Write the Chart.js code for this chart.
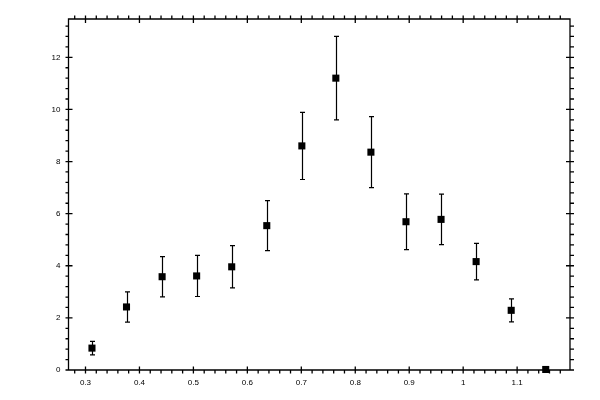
<!DOCTYPE html>
<html>
<head>
<meta charset="utf-8">
<script src="https://cdn.jsdelivr.net/npm/chart.js@4"></script>
<style>
  body { margin: 0; background: #fff; }
  canvas { display: block; }
</style>
</head>
<body>
<canvas id="chart" width="600" height="400"></canvas>
<script>
// Data
const xValues = [0.312, 0.376, 0.442, 0.506, 0.571, 0.636, 0.701, 0.764, 0.829, 0.894, 0.959, 1.024, 1.089, 1.153];
const yValues = [0.84, 2.42, 3.58, 3.61, 3.96, 5.54, 8.6, 11.2, 8.36, 5.69, 5.78, 4.16, 2.29, 0.02];
const yErrors = [0.26, 0.58, 0.77, 0.79, 0.81, 0.96, 1.29, 1.6, 1.36, 1.07, 0.97, 0.70, 0.44, 0];

// Axis ticks
const xTicks = [0.3, 0.4, 0.5, 0.6, 0.7, 0.8, 0.9, 1, 1.1];
const yTicks = [0, 2, 4, 6, 8, 10, 12];
const xRange = [0.2685, 1.198];
const yRange = [0, 13.47];

const FONT = { family: 'Liberation Sans', size: 8 };

// error bars, drawn under the markers
const errorBars = {
    id: 'errorBars',
    beforeDatasetsDraw(chart) {
        const { ctx, scales: { x, y } } = chart;
        ctx.save();
        ctx.strokeStyle = '#000';
        ctx.lineWidth = 1.2;
        xValues.forEach((xv, i) => {
            if (!yErrors[i]) return;
            const px = Math.round(x.getPixelForValue(xv)) + 0.5;
            const top = y.getPixelForValue(yValues[i] + yErrors[i]);
            const bot = y.getPixelForValue(yValues[i] - yErrors[i]);
            ctx.beginPath();
            ctx.moveTo(px, top); ctx.lineTo(px, bot);
            ctx.moveTo(px - 2.5, top); ctx.lineTo(px + 2.5, top);
            ctx.moveTo(px - 2.5, bot); ctx.lineTo(px + 2.5, bot);
            ctx.stroke();
        });
        ctx.restore();
    }
};

// box frame with major ticks across the axis and minor ticks outside
const frame = {
    id: 'frame',
    afterDraw(chart) {
        const { ctx, chartArea: { left, right, top, bottom }, scales: { x, y } } = chart;
        ctx.save();
        ctx.strokeStyle = '#000';
        ctx.lineWidth = 1.3;
        ctx.beginPath();
        ctx.rect(left, top, right - left, bottom - top);

        for (let v = 0.28; v < xRange[1]; v += 0.02) {
            const px = x.getPixelForValue(v);
            const major = xTicks.some(t => Math.abs(t - v) < 1e-6);
            ctx.moveTo(px, bottom + 3.5); ctx.lineTo(px, major ? bottom - 3.5 : bottom);
            ctx.moveTo(px, top - 3.5); ctx.lineTo(px, major ? top + 4 : top);
        }
        for (let v = 0.4; v < yRange[1]; v += 0.4) {
            const py = y.getPixelForValue(v);
            const major = yTicks.some(t => Math.abs(t - v) < 1e-6);
            ctx.moveTo(left - 3, py); ctx.lineTo(major ? left + 4 : left, py);
            ctx.moveTo(right + 4, py); ctx.lineTo(major ? right - 4 : right, py);
        }
        // tick at zero on the sides
        ctx.moveTo(left - 3, bottom); ctx.lineTo(left + 4, bottom);
        ctx.moveTo(right + 4, bottom); ctx.lineTo(right - 4, bottom);
        ctx.stroke();
        ctx.restore();
    }
};

new Chart(document.getElementById('chart').getContext('2d'), {
    type: 'scatter',
    data: {
        datasets: [{
            data: xValues.map((xv, i) => ({ x: xv, y: yValues[i] })),
            pointStyle: 'rect',
            pointRadius: 5,
            pointHoverRadius: 5,
            backgroundColor: '#000',
            borderColor: '#000',
            borderWidth: 0,
            clip: false
        }]
    },
    options: {
        responsive: false,
        animation: false,
        devicePixelRatio: 1,
        layout: { padding: { top: 19, right: 30, left: 0, bottom: 0 } },
        plugins: { legend: { display: false }, tooltip: { enabled: false } },
        scales: {
            x: {
                type: 'linear',
                min: xRange[0],
                max: xRange[1],
                grid: { display: false, drawTicks: false },
                border: { display: false },
                afterBuildTicks: s => { s.ticks = xTicks.map(v => ({ value: v })); },
                afterFit: s => { s.height = 30; },
                ticks: {
                    color: '#000',
                    font: FONT,
                    padding: 8,
                    maxRotation: 0,
                    autoSkip: false,
                    callback: v => String(Math.round(v * 10) / 10)
                }
            },
            y: {
                type: 'linear',
                min: yRange[0],
                max: yRange[1],
                grid: { display: false, drawTicks: false },
                border: { display: false },
                afterBuildTicks: s => { s.ticks = yTicks.map(v => ({ value: v })); },
                afterFit: s => { s.width = 68.5; },
                ticks: {
                    color: '#000',
                    font: FONT,
                    padding: 8,
                    autoSkip: false,
                    callback: v => String(v)
                }
            }
        }
    },
    plugins: [errorBars, frame]
});
</script>
</body>
</html>
